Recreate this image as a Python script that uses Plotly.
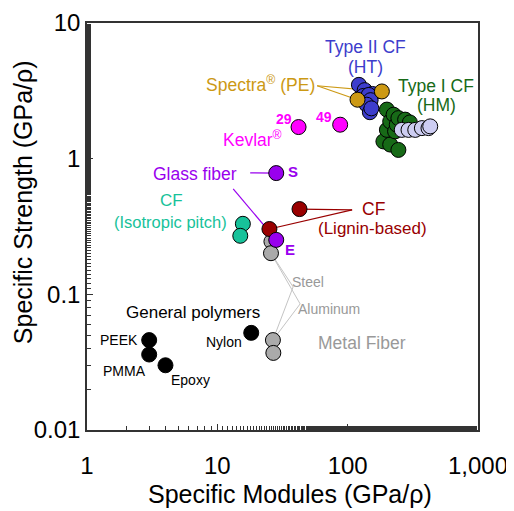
import math
import plotly.graph_objects as go

# ---------------- data (specific modulus, specific strength) ----------------
poly_x = [3.0, 3.0, 4.0, 18.2]
poly_y = [0.046, 0.036, 0.030, 0.052]
poly_names = ["PEEK", "PMMA", "Epoxy", "Nylon"]

metal_x = [26.0, 25.8, 26.7, 26.9]
metal_y = [0.245, 0.201, 0.046, 0.037]

pitch_x = [15.7, 15.0]
pitch_y = [0.331, 0.270]

lignin_x = [42.7, 25.1]
lignin_y = [0.425, 0.303]

glass_x = [28.3, 28.3]
glass_y = [0.783, 0.252]
glass_names = ["S", "E"]

kevlar_x = [42.0, 87.6]
kevlar_y = [1.71, 1.78]
kevlar_names = ["29", "49"]

ht_x = [122, 135, 132, 155, 145, 150, 140, 148, 152]
ht_y = [3.5, 3.2, 2.9, 3.0, 2.95, 2.7, 2.5, 2.2, 2.35]

hm_x = [188, 200, 212, 200, 212, 225, 231, 238, 245, 245, 276, 300]
hm_y = [1.34, 2.3, 1.27, 1.63, 1.88, 2.11, 1.59, 1.78, 1.99, 1.16, 1.94, 1.85]

hm2_x = [260, 293, 330, 371, 417, 430]
hm2_y = [1.63, 1.63, 1.63, 1.68, 1.68, 1.73]

spectra_x = [119, 183]
spectra_y = [2.72, 3.13]

x_ticks = [1, 10, 100, 1000]
x_tick_text = ["1", "10", "100", "1,000"]
y_ticks = [0.01, 0.1, 1, 10]
y_tick_text = ["0.01", "0.1", "1", "10"]

# ---------------- layout helpers ----------------
W, H = 514, 511
OFF = 8                      # page body margin
L, R, T, B = 86.7, 478.0, 23.3, 430.0   # plot box in window pixels
X0, X1, Y0, Y1 = 0.0, 3.0, -2.0, 1.0


def lg(px, py):
    """window pixel -> (log10 x, log10 y)"""
    return (X0 + (px - L) / (R - L) * (X1 - X0),
            Y1 - (py - T) / (B - T) * (Y1 - Y0))


def dv(px, py):
    a, b = lg(px, py)
    return 10 ** a, 10 ** b


def paper(px, py):
    return (px - L) / (R - L), (B - py) / (B - T)


FONT = "Arial, Liberation Sans, sans-serif"
BLUE = "#3d3dcc"
GREEN = "#176a17"
LAV = "#cdcdf2"
GOLD = "#cc9914"
MAG = "#ff00ff"
PURP = "#9900ee"
RED = "#990000"
TEAL = "#17c29a"
GRAY = "#aaaaaa"
LGRAY = "#999999"

fig = go.Figure()


def leader(p_from, xs, ys, color, width=1.2):
    fx, fy = dv(*p_from)
    for x, y in zip(xs, ys):
        fig.add_trace(go.Scatter(x=[fx, x], y=[fy, y], mode="lines",
                                 line=dict(color=color, width=width),
                                 hoverinfo="skip", showlegend=False))


# leader lines (drawn first, under markers)
leader((317, 86), spectra_x, spectra_y, GOLD)
leader((250, 173), glass_x[:1], glass_y[:1], PURP)
leader((233, 189), glass_x[1:], glass_y[1:], PURP)
leader((352, 210), lignin_x, lignin_y, RED)
leader((293, 287), [metal_x[1], metal_x[2]], [metal_y[1], metal_y[2]], "#c4c4c4", 1.0)
leader((300, 304), [metal_x[1], metal_x[2]], [metal_y[1], metal_y[2]], "#c4c4c4", 1.0)


def pts(xs, ys, color):
    fig.add_trace(go.Scatter(x=xs, y=ys, mode="markers",
                             marker=dict(size=15, color=color,
                                         line=dict(color="black", width=1)),
                             showlegend=False))


pts(poly_x, poly_y, "black")
pts(metal_x, metal_y, GRAY)
pts(pitch_x, pitch_y, TEAL)
pts(lignin_x, lignin_y, RED)
pts(glass_x, glass_y, PURP)
pts(kevlar_x, kevlar_y, MAG)
pts(ht_x, ht_y, BLUE)
pts(hm_x, hm_y, GREEN)
pts(hm2_x, hm2_y, LAV)
pts(spectra_x, spectra_y, GOLD)

ann = []


def label(text, px, py, color, size=17.5, xanchor="center", bold=False):
    a, b = lg(px, py)
    t = f"<b>{text}</b>" if bold else text
    ann.append(dict(x=a, y=b, xref="x", yref="y", text=t, showarrow=False,
                    xanchor=xanchor, yanchor="middle",
                    font=dict(family=FONT, size=size, color=color)))


label("Type II CF", 365, 47, BLUE)
label("(HT)", 365, 67, BLUE)
label("Type I CF", 436, 86, GREEN)
label("(HM)", 436, 105, GREEN)
label("Spectra<sup>®</sup> (PE)", 260, 84, GOLD)
label("Kevlar<sup>®</sup>", 252, 139, MAG)
label(kevlar_names[0], 284, 119, MAG, 14, bold=True)
label(kevlar_names[1], 324, 117, MAG, 14, bold=True)
label("Glass fiber", 195, 174, PURP)
label(glass_names[0], 293, 172, PURP, 15, bold=True)
label(glass_names[1], 290, 250, PURP, 15, bold=True)
label("CF", 171, 201, TEAL, 17)
label("(Isotropic pitch)", 170, 222, TEAL, 16.5)
label("CF", 373, 209, RED)
label("(Lignin-based)", 372, 229, RED, 17)
label("Steel", 308, 282, LGRAY, 14)
label("Aluminum", 329, 309, LGRAY, 14)
label("Metal Fiber", 362, 343, LGRAY, 17.5)
label("General polymers", 193, 313, "black", 17)
label(poly_names[0], 119, 340, "black", 14)
label(poly_names[1], 124, 371, "black", 14)
label(poly_names[2], 190, 380, "black", 14)
label(poly_names[3], 224, 342, "black", 14)

# axis titles as annotations (placed like the reference)
tx, ty = paper(290, 494)
ann.append(dict(x=tx, y=ty, xref="paper", yref="paper", showarrow=False,
                text="Specific Modules (GPa/ρ)", xanchor="center", yanchor="middle",
                font=dict(family=FONT, size=25, color="black")))
tx, ty = paper(22, 202)
ann.append(dict(x=tx, y=ty, xref="paper", yref="paper", showarrow=False,
                text="Specific Strength (GPa/ρ)", xanchor="center", yanchor="middle",
                textangle=-90, font=dict(family=FONT, size=25, color="black")))

axis_common = dict(
    type="log", showgrid=False, zeroline=False, showline=True,
    linecolor="#333333", linewidth=1.5, mirror=True,
    ticks="inside", ticklen=6, tickcolor="#333333", tickwidth=1,
    tickfont=dict(family=FONT, size=24, color="black"),
    minor=dict(ticks="inside", ticklen=4, tickcolor="#333333", showgrid=False),
    automargin=False,
)

fig.update_layout(
    width=W, height=H,
    margin=dict(l=L - OFF, r=W - R + OFF, t=T - OFF, b=H - B + OFF),
    paper_bgcolor="white", plot_bgcolor="white",
    font=dict(family=FONT),
    annotations=ann,
    xaxis=dict(range=[X0, X1], tickvals=x_ticks, ticktext=x_tick_text,
               ticklabelstandoff=13, **axis_common),
    yaxis=dict(range=[Y0, Y1], tickvals=y_ticks, ticktext=y_tick_text,
               ticklabelstandoff=0, **axis_common),
)

fig.write_html("out.html")
